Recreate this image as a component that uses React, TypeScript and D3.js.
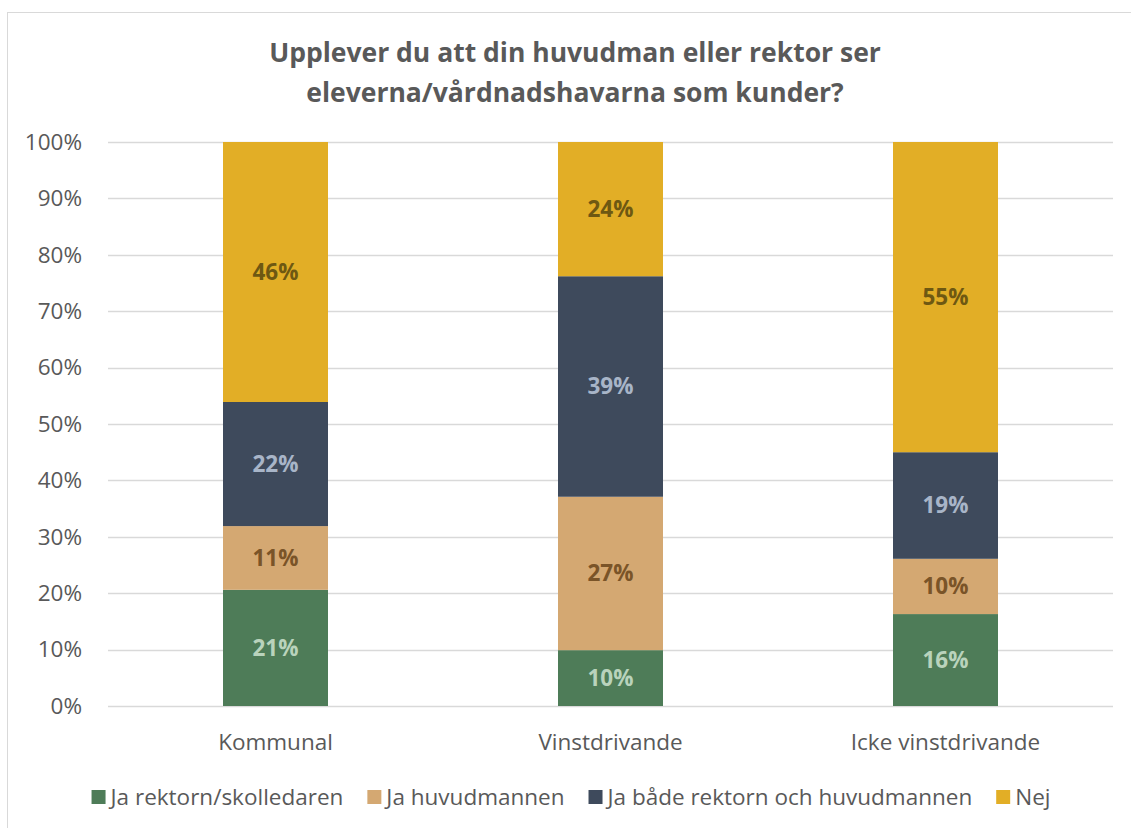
import React, { useEffect, useRef } from 'react';
import * as d3 from 'd3';

const categories = ['Kommunal', 'Vinstdrivande', 'Icke vinstdrivande'];
const seriesNames = [
  'Ja rektorn/skolledaren',
  'Ja huvudmannen',
  'Ja både rektorn och huvudmannen',
  'Nej'
];
// andel per kategori (i ordning Kommunal, Vinstdrivande, Icke vinstdrivande)
const rektorn = [0.206, 0.099, 0.163];
const huvudmannen = [0.113, 0.272, 0.098];
const bada = [0.22, 0.391, 0.189];
const nej = [0.461, 0.238, 0.55];
const yTicks = [0, 0.1, 0.2, 0.3, 0.4, 0.5, 0.6, 0.7, 0.8, 0.9, 1];
const titleLines = [
  'Upplever du att din huvudman eller rektor ser',
  'eleverna/vårdnadshavarna som kunder?'
];

const fills = ['#4e7c58', '#d4a872', '#3e4a5c', '#e2ae26'];
const labelColors = ['#b9d3bc', '#7a5428', '#a8b5c8', '#6e5812'];
const FONT = '"Open Sans", "Noto Sans", sans-serif';

const App = () => {
  const svgRef = useRef<SVGSVGElement>(null);
  const width = 1131;
  const height = 828;
  const margin = { top: 142, right: 18, bottom: 122, left: 108 };

  useEffect(() => {
    const svg = d3.select(svgRef.current);
    svg.selectAll('*').remove();

    // ram
    svg.append('rect')
      .attr('x', 7.5).attr('y', 12.5)
      .attr('width', width + 20).attr('height', height + 20)
      .attr('fill', '#fff')
      .attr('stroke', '#d9d9d9');

    const innerWidth = width - margin.left - margin.right;
    const innerHeight = height - margin.top - margin.bottom;

    const g = svg.append('g')
      .attr('transform', `translate(${margin.left},${margin.top})`);

    const x = d3.scaleBand().domain(categories).range([0, innerWidth]).paddingInner(0.6866).paddingOuter(0.3433);
    const y = d3.scaleLinear().domain([0, 1]).range([innerHeight, 0]);

    // rubrik
    svg.append('g').selectAll('text')
      .data(titleLines)
      .enter()
      .append('text')
      .attr('x', 575)
      .attr('y', (d, i) => 62 + i * 40)
      .attr('text-anchor', 'middle')
      .attr('fill', '#595959')
      .style('font-family', FONT)
      .style('font-weight', 700)
      .style('font-size', '26.5px')
      .text(d => d);

    // rutnät
    g.selectAll('.grid')
      .data(yTicks)
      .enter()
      .append('line')
      .attr('x1', 0).attr('x2', innerWidth)
      .attr('y1', d => Math.round(y(d)) + 0.5)
      .attr('y2', d => Math.round(y(d)) + 0.5)
      .attr('stroke', '#d9d9d9')
      .attr('stroke-width', 1.5);

    const yAxis = d3.axisLeft(y).tickValues(yTicks).tickSize(0).tickPadding(26)
      .tickFormat(d => `${Math.round(+d * 100)}%`);
    g.append('g')
      .call(yAxis)
      .call(a => {
        a.select('.domain').remove();
        a.selectAll('text')
          .attr('fill', '#595959')
          .style('font-family', FONT)
          .style('font-size', '22.5px');
      });

    const xAxis = d3.axisBottom(x).tickSize(0).tickPadding(28);
    g.append('g')
      .attr('transform', `translate(0,${innerHeight})`)
      .call(xAxis)
      .call(a => {
        a.select('.domain').remove();
        a.selectAll('text')
          .attr('fill', '#595959')
          .style('font-family', FONT)
          .style('font-size', '22.5px');
      });

    // staplade data
    const rows = categories.map((c, i) => ({
      cat: c,
      s0: rektorn[i],
      s1: huvudmannen[i],
      s2: bada[i],
      s3: nej[i]
    }));
    const stack = d3.stack<any>().keys(['s0', 's1', 's2', 's3']);
    const layers = stack(rows);

    layers.forEach((layer, k) => {
      const lg = g.append('g');
      lg.selectAll('rect')
        .data(layer)
        .enter()
        .append('rect')
        .attr('x', d => x(d.data.cat)!)
        .attr('width', x.bandwidth())
        .attr('y', d => y(d[1]))
        .attr('height', d => y(d[0]) - y(d[1]))
        .attr('fill', fills[k]);

      lg.selectAll('text')
        .data(layer)
        .enter()
        .append('text')
        .attr('x', d => x(d.data.cat)! + x.bandwidth() / 2)
        .attr('y', d => (y(d[0]) + y(d[1])) / 2)
        .attr('dy', '0.35em')
        .attr('text-anchor', 'middle')
        .attr('fill', labelColors[k])
        .style('font-family', FONT)
        .style('font-weight', 700)
        .style('font-size', '22.5px')
        .text(d => `${Math.round((d[1] - d[0]) * 100)}%`);
    });

    // förklaring
    const legend = svg.append('g').attr('transform', 'translate(0,797)');
    const items: any[] = [];
    let cx = 0;
    seriesNames.forEach((name, i) => {
      const item = legend.append('g');
      item.append('rect')
        .attr('x', 0).attr('y', -7)
        .attr('width', 14).attr('height', 14)
        .attr('fill', fills[i]);
      const t = item.append('text')
        .attr('x', 19)
        .attr('dy', '0.35em')
        .attr('fill', '#595959')
        .style('font-family', FONT)
        .style('font-size', '22.5px')
        .text(name);
      const w = 19 + (t.node() as SVGTextElement).getComputedTextLength();
      items.push({ item, w });
    });
    const gap = 24;
    const total = d3.sum(items, d => d.w) + gap * (items.length - 1);
    cx = 571 - total / 2;
    items.forEach(d => {
      d.item.attr('transform', `translate(${cx},0)`);
      cx += d.w + gap;
    });
  }, []);

  return (
    <svg
      ref={svgRef}
      width={width}
      height={height}
      style={{ position: 'absolute', left: 0, top: 0, background: '#fff' }}
    />
  );
};

export default App;
